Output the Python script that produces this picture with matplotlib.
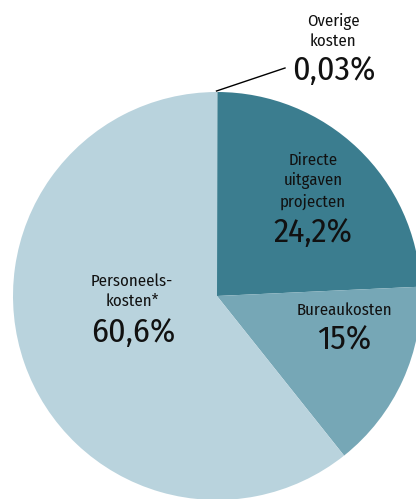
import matplotlib
matplotlib.use("Agg")
import matplotlib.pyplot as plt
from matplotlib import font_manager as fm

categories = ["Overige kosten", "Directe uitgaven projecten", "Bureaukosten", "Personeelskosten*"]
values = [0.03, 24.2, 15.0, 60.6]
value_labels = ["0,03%", "24,2%", "15%", "60,6%"]
name_labels = ["Overige\nkosten", "Directe\nuitgaven\nprojecten", "Bureaukosten", "Personeels-\nkosten*"]
colors = ["#ffffff", "#3b7d8f", "#76a7b6", "#b9d3dd"]

avail = {f.name for f in fm.fontManager.ttflist}
main = "DejaVu Sans"
for cand in ["Fira Sans Condensed", "Fira Sans Extra Condensed", "Encode Sans Condensed",
             "Barlow Semi Condensed", "Asap Condensed", "Archivo Narrow", "Barlow Condensed"]:
    if cand in avail:
        main = cand
        break
fam = [main, "DejaVu Sans"]

W, H = 416, 499
fig = plt.figure(figsize=(W / 100, H / 100), dpi=100)
ax = fig.add_axes([0, 0, 1, 1])

cx, cy, r = 217, H - 296, 204
wedges, _ = ax.pie(values, colors=colors, startangle=90, counterclock=False,
                   center=(cx, cy), radius=r, frame=True)
wedges[0].set_edgecolor("white")
wedges[0].set_linewidth(1.6)
ax.set_xlim(0, W)
ax.set_ylim(0, H)
ax.axis("off")

small = 12
big = 24.5

# leader line for tiny slice
ax.plot([216.5, 285], [H - 91, H - 68], color="black", lw=1)

pos_name = [(333, H - 31), (313, H - 181), (344, H - 310), (132, H - 291)]
pos_val = [(334, H - 71), (313, H - 233), (344, H - 340), (133, H - 333)]
for (nx, ny), (vx, vy), n, v in zip(pos_name, pos_val, name_labels, value_labels):
    ax.text(nx, ny, n, ha="center", va="center", fontsize=small, family=fam,
            linespacing=1.3, color="#111111")
    ax.text(vx, vy, v, ha="center", va="center", fontsize=big, family=fam,
            weight="normal", color="#111111")

fig.savefig("out.png", dpi=100)
